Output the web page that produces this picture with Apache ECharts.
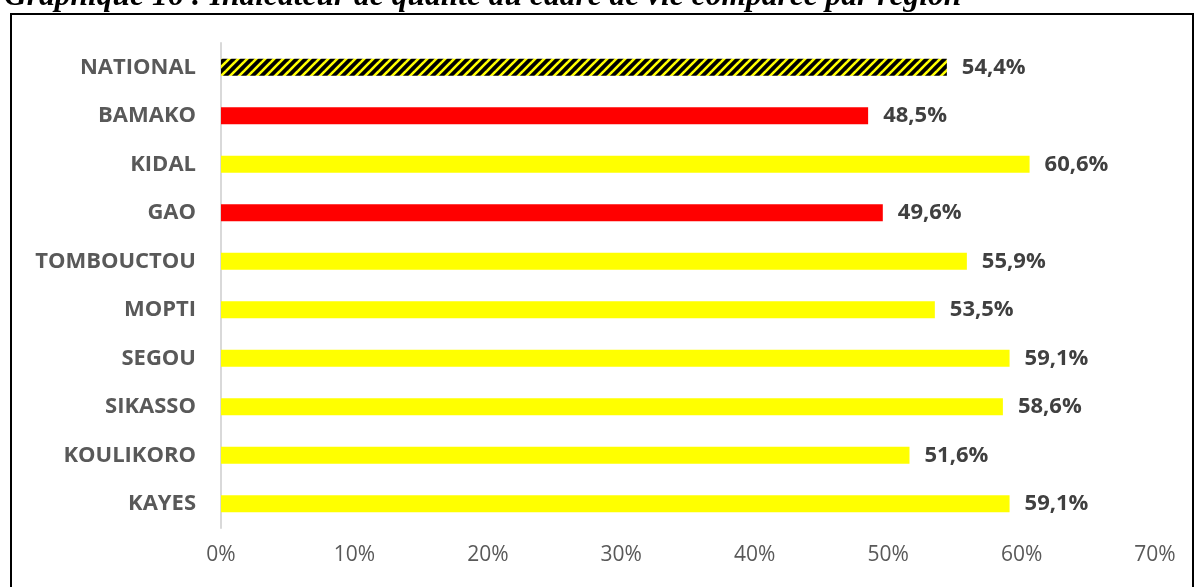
<!DOCTYPE html>
<html>
<head>
<meta charset="utf-8">
<script src="https://cdn.jsdelivr.net/npm/echarts@6/dist/echarts.min.js"></script>
<style>
html,body{margin:0;padding:0;background:#fff;}
#c{width:1194px;height:587px;}
</style>
</head>
<body>
<div id="c"></div>
<script>
var titleText = 'Graphique 16 : Indicateur de qualité du cadre de vie comparée par région';
var categories = ['NATIONAL','BAMAKO','KIDAL','GAO','TOMBOUCTOU','MOPTI','SEGOU','SIKASSO','KOULIKORO','KAYES'];
var values = [54.4, 48.5, 60.6, 49.6, 55.9, 53.5, 59.1, 58.6, 51.6, 59.1];
var barKinds = ['striped','red','yellow','red','yellow','yellow','yellow','yellow','yellow','yellow'];
var tickValues = [0,10,20,30,40,50,60,70];

// striped pattern
var pc = document.createElement('canvas');
pc.width = 9; pc.height = 9;
var ctx = pc.getContext('2d');
ctx.fillStyle = '#000';
ctx.fillRect(0,0,9,9);
ctx.strokeStyle = '#FFFF00';
ctx.lineWidth = 2.6;
[-9,0,9].forEach(function(o){
  ctx.beginPath();
  ctx.moveTo(o-1, 10);
  ctx.lineTo(o+10, -1);
  ctx.stroke();
});

var colorMap = {
  yellow: '#FFFF00',
  red: '#FF0000',
  striped: {image: pc, repeat: 'repeat'}
};

var chart = echarts.init(document.getElementById('c'), null, {renderer:'canvas'});
chart.setOption({
  animation: false,
  backgroundColor: '#fff',
  grid: {left: 221, right: 39, top: 43, bottom: 59, containLabel: false},
  xAxis: {
    type: 'value', min: 0, max: 70, interval: 10,
    axisLine: {show: false}, axisTick: {show: false}, splitLine: {show: false},
    axisLabel: {
      formatter: function(v){ return v + '%'; },
      color: '#595959', fontFamily: 'Open Sans', fontSize: 21, margin: 17
    }
  },
  yAxis: {
    type: 'category', data: categories, inverse: true,
    axisLine: {show: true, lineStyle: {color: '#d9d9d9', width: 2}},
    axisTick: {show: false},
    axisLabel: {color: '#595959', fontFamily: 'Open Sans', fontWeight: 'bold', fontSize: 22, margin: 25}
  },
  series: [{
    type: 'bar',
    barWidth: 17,
    data: values.map(function(v, i){
      return {value: v, itemStyle: {color: colorMap[barKinds[i]]}};
    }),
    label: {
      show: true, position: 'right', distance: 15,
      formatter: function(p){ return p.value.toFixed(1).replace('.', ',') + '%'; },
      color: '#404040', fontFamily: 'Open Sans', fontWeight: 'bold', fontSize: 22
    }
  }],
  graphic: [
    {type: 'rect', shape: {x: 11, y: 14, width: 1182, height: 620}, style: {fill: 'none', stroke: '#000', lineWidth: 2}, silent: true},
    {type: 'text', x: 4, y: -3, style: {text: titleText, font: 'italic bold 31.5px "Liberation Serif"', fill: '#000', verticalAlign: 'middle'}, silent: true}
  ]
});
</script>
</body>
</html>
